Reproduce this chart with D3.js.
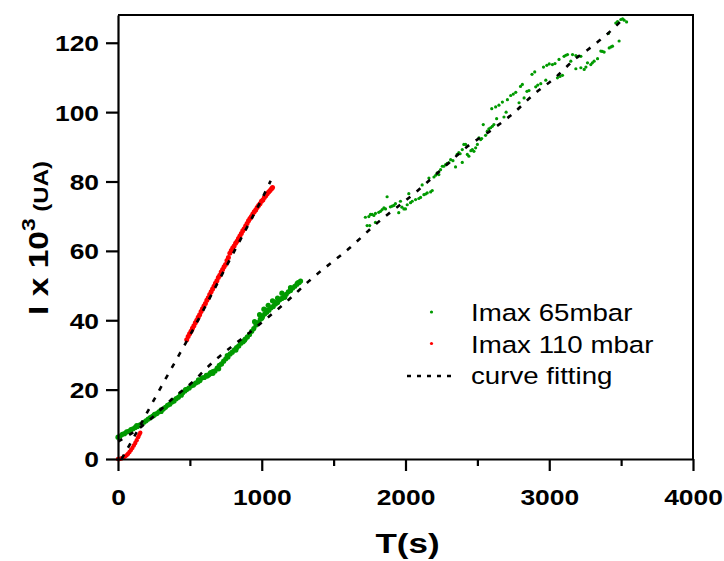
<!DOCTYPE html>
<html>
<head>
<meta charset="utf-8">
<script src="https://cdn.jsdelivr.net/npm/d3@7"></script>
<style>
  body { margin: 0; background: #fff; }
  svg text { font-family: Arial, "Liberation Sans", sans-serif; }
</style>
</head>
<body>
<div id="chart"></div>
<script>
// Data: [time (s), I x 10^3 (UA)]
var green65Dense = [
  [0,6.3],[15,6.6],[30,7.1],[45,7.3],[60,7.8],[75,8.0],[90,8.5],[105,8.7],[120,9.1],[135,9.4],
  [150,9.8],[165,10.1],[180,10.6],[195,11.0],[210,11.5],[225,11.9],[240,12.3],[255,12.9],[270,13.1],[285,13.6],
  [300,14.2],[315,14.4],[330,14.9],[345,15.5],[360,15.8],[375,16.4],[390,16.7],[405,17.4],[420,17.8],[435,18.7],
  [450,19.1],[465,19.6],[480,20.1],[495,20.5],[510,21.1],[525,21.3],[540,21.9],[555,22.2],[570,22.6],[585,23.4],
  [600,23.5],[615,24.1],[630,24.2],[645,24.9],[660,25.2],[675,25.4],[690,26.2],[705,27.0],[720,27.4],[735,28.2],
  [750,28.9],[765,29.4],[780,30.3],[795,30.8],[810,31.5],[825,32.1],[840,32.6],[855,33.4],[870,33.8],[885,34.6],
  [900,35.2],[915,35.9],[930,36.8],[945,37.6],[960,38.6],[975,39.3],[990,40.3],[1005,41.0],[1020,41.8],[1035,42.3],
  [1050,42.9],[1065,43.6],[1080,44.0],[1095,44.7],[1110,45.1],[1125,45.9],[1140,46.3],[1155,47.0],[1170,47.5],[1185,48.2],
  [1200,48.6],[1215,49.3],[1230,49.8],[1245,50.4],[1260,50.9],[1270,51.3],
  [250,12.6],[300,13.7],[380,16.9],[560,22.8],[620,23.9],[700,26.0],[760,29.8],[820,31.4],
  [950,39.6],[985,41.6],[1015,43.2],[1045,44.3],[1075,45.6],[1110,46.4],[1140,47.8],[1200,49.4],
  [130,9.6],[440,18.4],[470,20.0],[640,24.6],[660,24.7],[880,34.2],[1000,40.6],[1030,42.9],[1090,45.2],[1160,46.6],[1250,50.8]
];

var green65Sparse = [
  [1721,69.7],[1733,67.3],[1751,67.3],[1756,70.5],[1768,70.5],[1791,70.8],[1791,68.2],[1814,71.1],[1826,71.4],[1838,71.9],
  [1861,72.1],[1872,75.6],[1895,72.7],[1907,72.9],[1919,73.1],[1953,71.0],[1965,74.3],[1989,72.1],[2000,72.1],[2012,73.3],
  [2023,76.5],[2047,74.3],[2070,74.8],[2093,75.1],[2116,79.0],[2128,76.2],[2151,76.7],[2163,81.0],[2186,77.4],[2198,81.3],
  [2221,82.5],[2232,82.0],[2244,83.4],[2256,84.4],[2267,84.4],[2279,84.9],[2302,85.4],[2314,86.3],[2348,84.2],[2359,87.8],
  [2371,88.3],[2395,85.5],[2395,89.2],[2406,90.7],[2418,90.7],[2430,87.8],[2441,87.3],[2465,89.2],[2476,88.7],[2488,89.7],
  [2500,90.7],[2511,92.6],[2523,92.1],[2541,96.4],[2557,93.3],[2569,94.5],[2592,95.5],[2604,95.9],[2615,96.4],[2627,101.5],
  [2634,98.1],[2674,102.9],[2685,98.6],[2709,103.6],[2732,104.8],[2767,105.7],[2790,102.7],[2813,108.0],[2825,104.1],[2859,106.2],
  [2899,111.6],[2906,107.3],[2941,108.2],[2976,109.2],[2983,113.5],[3022,113.7],[3057,109.9],[3068,115.2],[3092,110.6],[3103,116.1],
  [3127,116.6],[3150,114.7],[3162,116.6],[3185,112.5],[3185,116.3],[3220,116.1],[3220,112.8],[3243,112.3],[3266,114.2],[3289,113.7],
  [3312,114.7],[3336,115.4],[3359,117.6],[3382,117.3],[3412,122.7],[3417,118.5],[3440,119.0],[3463,125.7],[3486,120.5],[3498,126.7],
  [3521,126.5],[3538,126.0],[3510,126.9],[2880,110.9],[2960,113.0],[3000,113.9],[2600,101.0],[2650,102.0],
  [1745,69.9],[1780,70.2],[1850,72.4],[1930,73.6],[1975,72.6],[2035,73.9],[2105,75.4],[2140,76.4],[2175,77.0],[2210,81.8],
  [2290,85.2],[2330,86.0],[2380,88.0],[2455,88.9],[2530,92.4],[2580,95.2],[2700,100.0],[2750,105.2],[2800,107.4],[2845,106.0],
  [2920,107.8],[3040,114.0],[3075,110.3],[3115,116.4],[3200,116.0],[3255,113.0],[3300,114.2],[3370,117.5],[3430,118.8],[3475,126.1]
];

var red110Start = [
  [0,0.0],[10,0.0],[20,0.1],[30,0.3],[40,0.5],[50,0.8],[60,1.1],[70,1.5],[80,2.0],[90,2.6],
  [100,3.2],[110,3.9],[120,4.6],[130,5.4],[140,6.3],[148,7.0],[155,7.6]
];

var red110Main = [
  [478,34.4],[488,35.3],[498,36.1],[508,36.8],[518,37.7],[528,38.4],[538,39.3],[548,40.0],[558,40.9],[568,41.6],
  [578,42.5],[588,43.3],[598,44.1],[608,44.8],[618,45.8],[628,46.5],[638,47.4],[648,48.2],[658,49.0],[668,49.8],
  [678,50.7],[688,51.4],[698,52.3],[708,53.0],[718,53.9],[728,54.6],[738,55.4],[748,56.1],[758,57.2],[768,58.1],
  [778,59.3],[788,60.1],[798,60.8],[808,61.4],[818,62.2],[828,62.8],[838,63.6],[848,64.3],[858,65.0],[868,65.8],
  [878,66.4],[888,67.2],[898,67.9],[908,68.7],[918,69.3],[928,69.9],[938,70.6],[948,71.3],[958,71.8],[968,72.5],
  [978,73.1],[988,73.6],[998,74.3],[1008,74.7],[1018,75.4],[1028,75.9],[1038,76.5],[1048,77.0],[1058,77.4],[1068,77.9],
  [1075,78.3]
];

// Fitted curves
var fit65 = [
  [0,5.0],[165,9.4],[385,17.6],[537,22.9],[606,25.8],[955,37.8],[1187,45.9],[1326,51.2],[1635,61.7],[1774,67.0],
  [2080,77.2],[2289,84.9],[2428,90.0],[2593,94.7],[2748,99.6],[2889,105.0],[3043,110.0],[3185,115.5],[3268,118.0],[3422,123.2],
  [3500,126.3]
];
var fit110 = [
  [25,0.0],[100,5.5],[200,13.2],[300,20.8],[400,28.2],[500,35.6],[600,43.4],[700,51.3],[800,59.2],[900,67.0],
  [1000,74.9],[1062,80.2]
];

var xTicks = [0, 1000, 2000, 3000, 4000];
var xMinorTicks = [500, 1500, 2500, 3500];
var yTicks = [0, 20, 40, 60, 80, 100, 120];

var legendLabels = ['Imax 65mbar', 'Imax 110 mbar', 'curve fitting'];
var colors = { g: '#009a00', r: '#ff0000', fit: '#000000' };

var W = 724, H = 561;
var margin = {left: 118, right: 31, top: 15, bottom: 102};

// The glyphs in the original are drawn wider than Arial, so text gets a horizontal stretch
var stretch = 1.2;

var svg = d3.select('#chart')
    .append('svg')
        .attr('width', W)
        .attr('height', H);

var x = d3.scaleLinear().domain([0, 4000]).range([margin.left, W - margin.right]);
var y = d3.scaleLinear().domain([0, 128]).range([H - margin.bottom, margin.top]);

// Frame (top and right)
svg.append('path')
    .attr('d', 'M' + x(0) + ',' + y(128) + 'H' + x(4000) + 'V' + y(0))
    .attr('fill', 'none')
    .attr('stroke', '#000')
    .attr('stroke-width', 2);

// Data points
function dots(data, color, r){
    svg.append('g').selectAll('circle')
        .data(data)
        .enter().append('circle')
            .attr('cx', function(d){ return x(d[0]); })
            .attr('cy', function(d){ return y(d[1]); })
            .attr('r', r)
            .attr('fill', color);
}
dots(green65Dense, colors.g, 2.6);
dots(green65Sparse, colors.g, 1.6);
dots(red110Start, colors.r, 2.2);
dots(red110Main, colors.r, 2.5);

// Fitted curves, drawn over the data
var line = d3.line()
    .x(function(d){ return x(d[0]); })
    .y(function(d){ return y(d[1]); })
    .curve(d3.curveMonotoneX);

[fit65, fit110].forEach(function(f){
    svg.append('path')
        .datum(f)
        .attr('d', line)
        .attr('fill', 'none')
        .attr('stroke', colors.fit)
        .attr('stroke-width', 2.6)
        .attr('stroke-dasharray', '5,8');
});

// Axes
var xAxisCall = d3.axisBottom(x).tickValues(xTicks).tickSize(12).tickSizeOuter(0)
    .tickFormat(d3.format('d'));
var xMinorCall = d3.axisBottom(x).tickValues(xMinorTicks).tickSize(7).tickSizeOuter(0).tickFormat('');
var yAxisCall = d3.axisLeft(y).tickValues(yTicks).tickSize(12).tickSizeOuter(0)
    .tickFormat(d3.format('d'));

var gx = svg.append('g')
    .attr('transform', 'translate(0,' + y(0) + ')')
    .call(xAxisCall);
svg.append('g')
    .attr('transform', 'translate(0,' + y(0) + ')')
    .call(xMinorCall)
    .select('.domain').remove();
var gy = svg.append('g')
    .attr('transform', 'translate(' + x(0) + ',0)')
    .call(yAxisCall);

svg.selectAll('.domain').attr('stroke-width', 2.2);
svg.selectAll('.tick line').attr('stroke-width', 2.2);
[gx, gy].forEach(function(g){
    g.selectAll('.tick text')
        .attr('font-size', '22px')
        .attr('font-weight', 'bold')
        .attr('fill', '#000')
        .attr('transform', 'scale(' + stretch + ',1)');
});
gx.selectAll('.tick text').attr('dy', null).attr('y', 46);
gy.selectAll('.tick text').attr('x', -19 / stretch).attr('dy', '0.36em');

// Axis titles
svg.append('text')
    .attr('transform', 'translate(' + (x(2000) + 2) + ',553) scale(1.25,1)')
    .attr('text-anchor', 'middle')
    .attr('font-size', '28px')
    .attr('font-weight', 'bold')
    .text('T(s)');

var yTitle = svg.append('text')
    .attr('transform', 'translate(48,238) rotate(-90) scale(1.2,1)')
    .attr('text-anchor', 'middle')
    .attr('font-weight', 'bold')
    .attr('font-size', '28px');
yTitle.append('tspan').text('I x 10');
yTitle.append('tspan').attr('font-size', '19px').attr('dy', -13).text('3');
yTitle.append('tspan').attr('font-size', '20px').attr('dy', 13).text(' (UA)');

// Legend
var legend = svg.append('g').attr('transform', 'translate(407,312)');
var rowH = 31.5;
legend.append('circle').attr('cx', 24.5).attr('cy', 0).attr('r', 1.6).attr('fill', colors.g);
legend.append('circle').attr('cx', 24.5).attr('cy', rowH).attr('r', 1.6).attr('fill', colors.r);
legend.append('line')
    .attr('x1', 0).attr('x2', 46)
    .attr('y1', rowH * 2 + 1).attr('y2', rowH * 2 + 1)
    .attr('stroke', '#000')
    .attr('stroke-width', 2.6)
    .attr('stroke-dasharray', '4,6');
legend.selectAll('text.lbl')
    .data(legendLabels)
    .enter().append('text')
        .attr('class', 'lbl')
        .attr('transform', function(d, i){ return 'translate(64,' + (i * rowH + 9) + ') scale(1.13,1)'; })
        .attr('font-size', '24.5px')
        .text(function(d){ return d; });
</script>
</body>
</html>
